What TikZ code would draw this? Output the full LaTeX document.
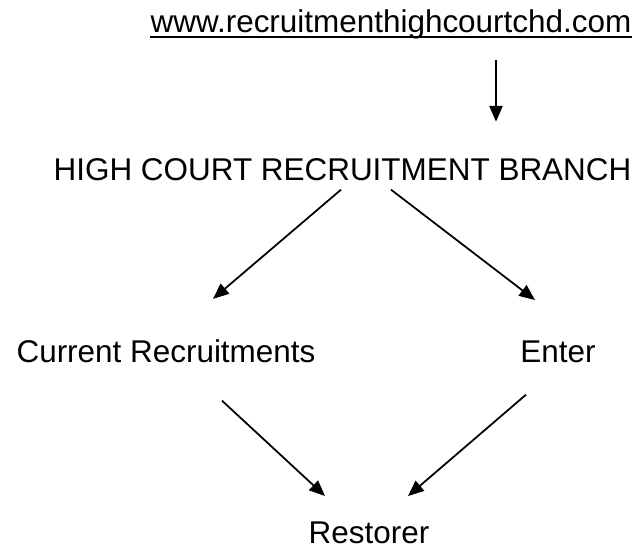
\documentclass[tikz,border=0pt]{standalone}
\usepackage{fontspec}
\setmainfont{Liberation Sans}
\usepackage{tikz}
\usetikzlibrary{arrows.meta, positioning, calc}

\tikzset{
  lbl/.style={inner sep=0pt, anchor=base, font=\fontsize{17.9}{20}\selectfont},
  arr/.style={line width=1pt, -{Triangle[length=9pt, width=7.5pt]}}
}

\begin{document}
\begin{tikzpicture}[x=0.02cm, y=-0.02cm]
    \useasboundingbox (0,0) rectangle (635,552);
    % site
    \node[lbl] (url) at (391,32) {www.recruitmenthighcourtchd.com};
    \draw[line width=0.8pt] ($(url.base west)+(0,5)$) -- ($(url.base east)+(0,5)$);
    % branch
    \node[lbl] (hc) at (342.5,180) {HIGH COURT RECRUITMENT BRANCH};
    % options
    \node[lbl] (cur) at (166,362) {Current Recruitments};
    \node[lbl] (ent) at (558,362) {Enter};
    % result
    \node[lbl] (res) at (369,543) {Restorer};

    \draw[arr] ($(url.base)+(105,28)$) -- ($(hc.north)+(153.5,-36)$);
    \draw[arr] ($(hc.south)+(-1.5,9)$) -- ($(cur.north)+(47,-40)$);
    \draw[arr] ($(hc.south)+(48.5,9)$) -- ($(ent.north)+(-23,-40)$);
    \draw[arr] ($(cur.south)+(56,38)$) -- ($(res.north)+(-44,-25)$);
    \draw[arr] ($(ent.south)+(-32,32)$) -- ($(res.north)+(39,-25)$);
  \end{tikzpicture}
\end{document}
